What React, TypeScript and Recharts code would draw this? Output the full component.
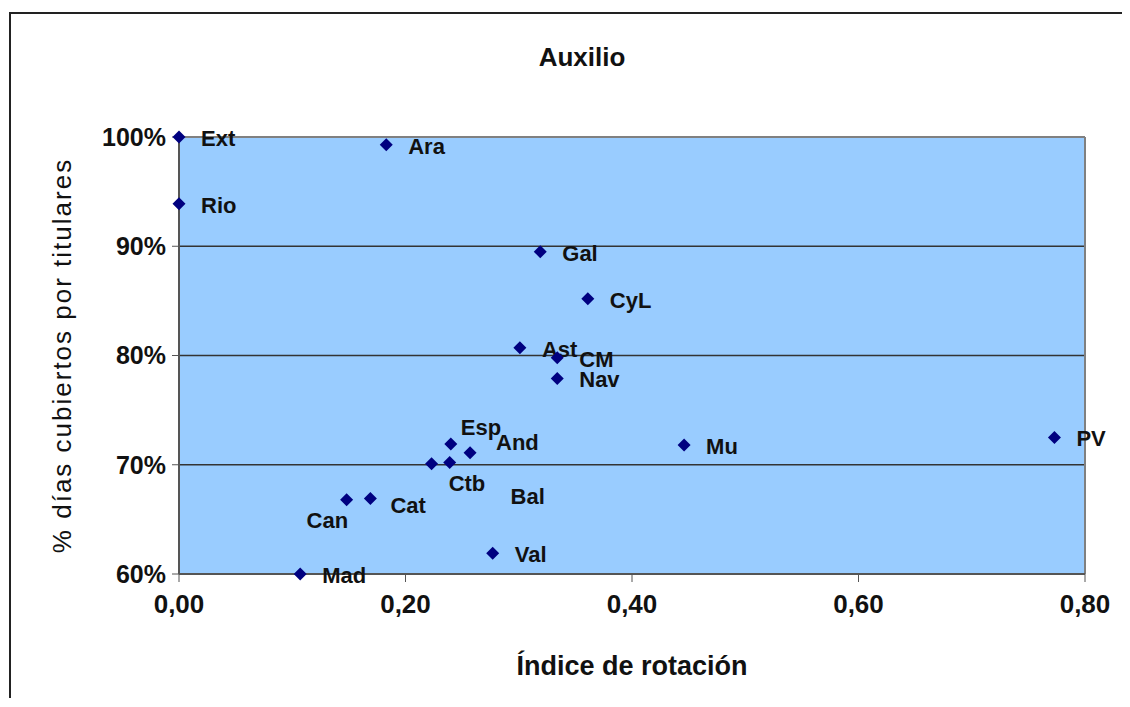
import React from 'react';
import { ScatterChart, Scatter, XAxis, YAxis, CartesianGrid, ReferenceLine, Label } from 'recharts';

// Comunidades autónomas: índice de rotación vs % días cubiertos por titulares
const regions = ['Ext', 'Rio', 'Ara', 'Gal', 'CyL', 'Ast', 'CM', 'Nav', 'Mu', 'PV', 'Esp', 'And', 'Ctb', 'Bal', 'Cat', 'Can', 'Val', 'Mad'];
const rotation = [0.0, 0.0, 0.183, 0.319, 0.361, 0.301, 0.334, 0.334, 0.446, 0.773, 0.24, 0.257, 0.239, 0.223, 0.169, 0.148, 0.277, 0.107];
const coverage = [1.0, 0.939, 0.993, 0.895, 0.852, 0.807, 0.798, 0.779, 0.718, 0.725, 0.719, 0.711, 0.702, 0.701, 0.669, 0.668, 0.619, 0.6];
const xTicks = [0, 0.2, 0.4, 0.6, 0.8];
const yTicks = [0.6, 0.7, 0.8, 0.9, 1.0];

const data = regions.map((name, i) => ({ name, x: rotation[i], y: coverage[i] }));

// labels that were moved by hand in the original chart
const labelShift: Record<string, [number, number]> = {
  Esp: [10, -17],
  And: [26, -11],
  Ctb: [-1, 21],
  Bal: [79, 32],
  Cat: [20, 6],
  Can: [-40, 20],
};

const font = '"Liberation Sans", Arial, sans-serif';

const Point = (props: any) => {
  const { cx, cy, payload } = props;
  if (cx == null || cy == null) return null;
  const [dx, dy] = labelShift[payload.name] || [22, 1];
  const r = 6.5;
  return (
    <g>
      <polygon
        points={`${cx},${cy - r} ${cx + r},${cy} ${cx},${cy + r} ${cx - r},${cy}`}
        fill="#000080"
      />
      <text x={cx + dx} y={cy + dy} dy="0.36em" fontSize={22} fontWeight="bold" fontFamily={font} fill="#111">
        {payload.name}
      </text>
    </g>
  );
};

export default function App() {
  return (
    <div style={{ position: 'relative', width: 1114, height: 690, fontFamily: font }}>
      <div
        style={{
          position: 'absolute',
          left: 1,
          top: 4,
          width: 1119,
          height: 694,
          borderLeft: '2px solid #222',
          borderTop: '2px solid #222',
          boxSizing: 'border-box',
        }}
      />
      <div
        style={{
          position: 'absolute',
          left: 474,
          top: 34,
          width: 200,
          textAlign: 'center',
          fontSize: 26,
          fontWeight: 'bold',
          color: '#111',
        }}
      >
        Auxilio
      </div>
      <ScatterChart width={1114} height={690} margin={{ top: 129, right: 37, left: 0, bottom: 0 }}>
        <CartesianGrid horizontal vertical={false} fill="#99ccff" stroke="#333" strokeWidth={1.5} />
        <XAxis
          type="number"
          dataKey="x"
          domain={[0, 0.8]}
          ticks={xTicks}
          height={124}
          axisLine={{ stroke: '#555', strokeWidth: 2 }}
          tickLine={{ stroke: '#555' }}
          tickSize={8}
          tickMargin={13}
          tick={{ fill: '#111', fontSize: 26, fontWeight: 'bold', fontFamily: font }}
          tickFormatter={(v: number) => v.toFixed(2).replace('.', ',')}
        >
          <Label
            value="Índice de rotación"
            position="insideTop"
            offset={82}
            fill="#111"
            fontSize={27}
            fontWeight="bold"
            fontFamily={font}
          />
        </XAxis>
        <YAxis
          type="number"
          dataKey="y"
          domain={[0.6, 1.0]}
          ticks={yTicks}
          width={171}
          axisLine={{ stroke: '#555', strokeWidth: 2 }}
          tickLine={{ stroke: '#555' }}
          tickSize={7}
          tickMargin={6}
          tick={{ fill: '#111', fontSize: 25, fontWeight: 'bold', fontFamily: font }}
          tickFormatter={(v: number) => `${Math.round(v * 100)}%`}
        >
          <Label
            value="% días cubiertos por titulares"
            angle={-90}
            position="insideLeft"
            offset={54}
            fill="#111"
            fontSize={26}
            fontFamily={font}
            style={{ textAnchor: 'middle', letterSpacing: 2 }}
          />
        </YAxis>
        <ReferenceLine y={1.0} stroke="#808080" strokeWidth={2} />
        <ReferenceLine x={0.8} stroke="#808080" strokeWidth={2} />
        <Scatter data={data} shape={<Point />} isAnimationActive={false} />
      </ScatterChart>
    </div>
  );
}
